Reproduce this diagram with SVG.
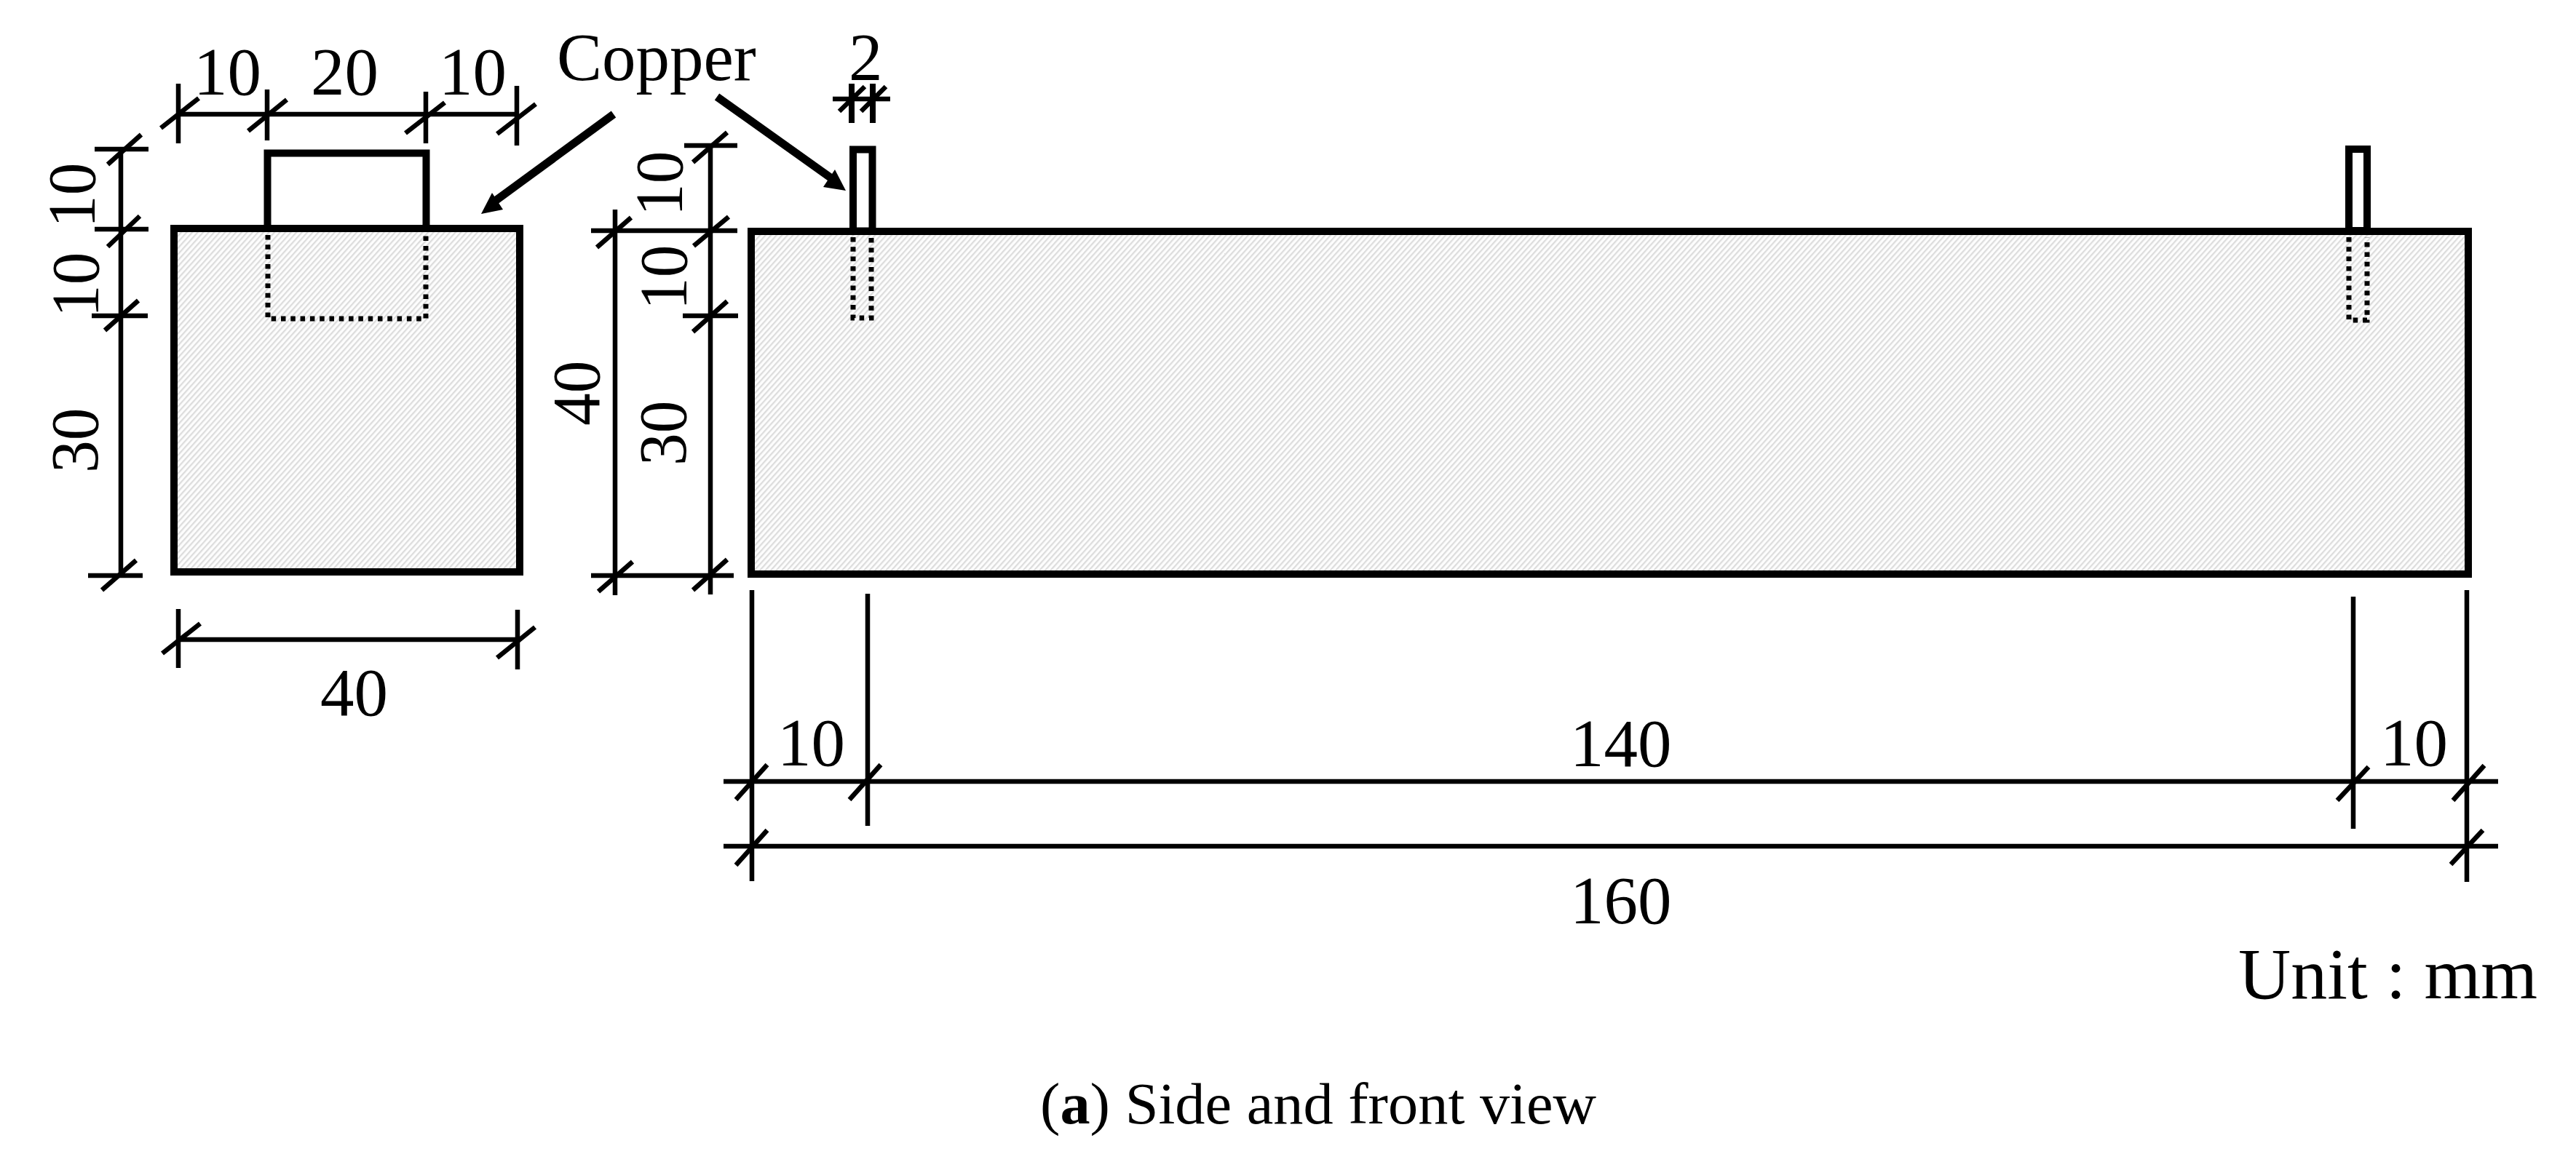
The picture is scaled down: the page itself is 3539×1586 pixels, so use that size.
<svg xmlns="http://www.w3.org/2000/svg" width="3539" height="1586" viewBox="0 0 3539 1586">
<style>
text{font-family:"Liberation Serif","Times New Roman",serif;font-size:93px;fill:#000}
.b{fill:url(#h);stroke:#000;stroke-width:10}
.t{fill:#fff;stroke:#000;stroke-width:10}
.d{fill:none;stroke:#000;stroke-width:7;stroke-dasharray:6.5 6.8}
.l{stroke:#000;stroke-width:6.500;fill:none}
.s{stroke:#000;stroke-width:8;fill:none}
.a{stroke:#000;stroke-width:11;fill:none}
</style>
<defs>
<pattern id="h" width="5.600" height="5.600" patternUnits="userSpaceOnUse" patternTransform="rotate(-48)">
<rect width="5.600" height="5.600" fill="#fdfdfd"/><rect width="5.600" height="2.200" fill="#dcdcdc"/>
</pattern>
</defs>
<rect width="3539" height="1586" fill="#fff"/>
<g id="side-tab"><rect class="t" x="367.500" y="210.500" width="218" height="105"/></g>
<g id="side-body"><rect class="b" x="239" y="314" width="475" height="472"/></g>
<g id="side-embed"><path class="d" d="M368 323V438H585V323"/></g>
<g id="front-tab-left"><rect class="t" x="1172" y="205.500" width="26.500" height="112"/></g>
<g id="front-tab-right"><rect class="t" x="3227" y="205" width="25" height="112"/></g>
<g id="front-body"><rect class="b" x="1032" y="318" width="2359" height="471"/></g>
<g id="front-embed-left"><path class="d" d="M1172 326V437H1197V326"/></g>
<g id="front-embed-right"><path class="d" d="M3227 326V440H3252V326"/></g>
<g id="connectors">
<g class="l">
<path d="M245 115V197M367 123V193M585 126V197M710 118V200M245 157H710"/>
<path d="M221 176L273 135M341 180L394 137M557 183L611 141M683 184L736 143"/>
<path d="M130 205H204M130 315H204M126 434H203M121 791H196M166 205V791"/>
<path d="M148 226L194 185M148 339L192 297M144 454L190 413M140 811L187 770"/>
<path d="M245 837V918M711 838V920M245 879H711"/>
<path d="M223 898L275 857M683 904L735 862"/>
<path d="M812 317H1013M940 200H1013M938 434H1014M845 288V818M976 200V817M812 791H1008"/>
<path d="M952 223L999 182M953 338L1001 298M952 456L999 414M820 340L867 299M822 813L869 772M952 811L999 769"/>
<path d="M1144 136H1223M1153 153L1188 119M1183 153L1217 119"/>
<path d="M1033 811V1211M1192 816V1135M3233 820V1139M3389 811V1212"/>
<path d="M994 1074H3432M994 1163H3432"/>
<path d="M1011 1099L1054 1051M1167 1099L1210 1051M3211 1100L3254 1054M3370 1100L3413 1052M1011 1189L1054 1141M3367 1188L3411 1141"/>
</g>
<path class="s" d="M1170 115V169M1199 115V169"/>
<path class="a" d="M843 157L675 280"/>
<polygon points="661,294 676,265 691,288"/>
<path class="a" d="M985 133L1145 247"/>
<polygon points="1162,262 1147,233 1131,257"/>
</g>
<g id="labels">
<text x="266" y="130">10</text>
<text x="427" y="130">20</text>
<text x="603" y="130">10</text>
<text x="765" y="110">Copper</text>
<text x="1166" y="110">2</text>
<text x="440" y="983">40</text>
<text transform="translate(130 313) rotate(-90) scale(.96 1)">10</text>
<text transform="translate(135 436) rotate(-90) scale(.96 1)">10</text>
<text transform="translate(134 650) rotate(-90) scale(.96 1)">30</text>
<text transform="translate(823 585) rotate(-90) scale(.96 1)">40</text>
<text transform="translate(937 297) rotate(-90) scale(.96 1)">10</text>
<text transform="translate(943 426) rotate(-90) scale(.96 1)">10</text>
<text transform="translate(942 640) rotate(-90) scale(.96 1)">30</text>
<text x="1068" y="1052">10</text>
<text x="2157" y="1053">140</text>
<text x="3270" y="1052">10</text>
<text x="2157" y="1269">160</text>
<text x="3075" y="1372" style="font-size:100px">Unit : mm</text>
<text x="1429" y="1544" style="font-size:80px" textLength="764" lengthAdjust="spacingAndGlyphs">(<tspan font-weight="bold">a</tspan>) Side and front view</text>
</g>
</svg>
